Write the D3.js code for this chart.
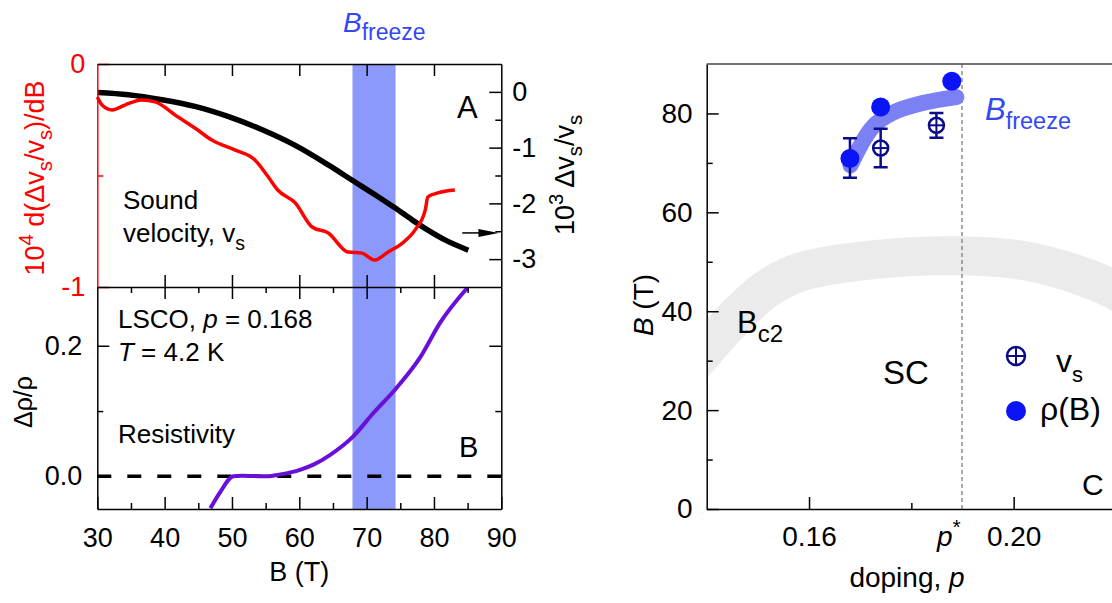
<!DOCTYPE html>
<html lang="en">
  <head>
    <meta charset="UTF-8" />
    <script src="https://cdn.jsdelivr.net/npm/d3@7"></script>
    <style>
      * {
        margin: 0;
        padding: 0;
      }
      body {
        background: #fff;
      }
      svg {
        display: block;
        font-family: 'Liberation Sans', Arial, sans-serif;
      }
    </style>
    <title>Bfreeze</title>
  </head>
  <body>
    <div id="container"></div>
  </body>
  <script>
    // panel A: sound velocity (black, right axis) and its field derivative (red, left axis)
    const vsField = [30.1, 34.6, 39.6, 44.5, 49.4, 54.5, 59.4, 64.3, 67.8, 71.7, 74.2, 76.8, 79.1, 81.7, 85.1];
    const vsShift = [-0.01, -0.05, -0.14, -0.26, -0.44, -0.68, -0.96, -1.31, -1.58, -1.88, -2.08, -2.3, -2.48, -2.66, -2.84];
    const dvdbField = [30, 30.7, 32.2, 34.1, 36.6, 38.6, 42.0, 44.5, 47.0, 50.5, 53.4, 55.4, 56.8, 59.4, 61.9, 64.3, 67.2, 69.3, 71.2, 73.2, 75.3, 77.2, 78.7, 79.1, 80.6, 83.1];
    const dvdb = [-0.148, -0.184, -0.206, -0.184, -0.161, -0.17, -0.238, -0.287, -0.341, -0.386, -0.43, -0.507, -0.565, -0.623, -0.731, -0.758, -0.843, -0.848, -0.879, -0.843, -0.803, -0.744, -0.655, -0.596, -0.578, -0.565];
    const arrowLevel = -2.53;

    // panel B: resistivity
    const rhoField = [46.8, 48.2, 50.2, 51.5, 55.2, 57.2, 60.1, 62.1, 64.6, 67.9, 71.0, 74.4, 78.0, 80.9, 84.9];
    const rho = [-0.049, -0.025, 0.0, 0.001, 0.0, 0.003, 0.01, 0.018, 0.033, 0.06, 0.097, 0.135, 0.183, 0.235, 0.288];

    // Bfreeze window (T)
    const freezeWindow = [67.9, 74.3];

    // panel C: phase diagram
    const pRho = [0.168, 0.174, 0.1879];
    const bRho = [70.9, 81.3, 86.5];
    const pVs = [0.168, 0.174, 0.1849];
    const bVs = [71.0, 73.0, 77.6];
    const bVsErr = [4.0, 3.9, 2.5];
    const pFreeze = [0.1681, 0.1724, 0.1763, 0.1822, 0.1888];
    const bFreeze = [69.5, 77.2, 80.1, 82.1, 83.3];
    const pBc2 = [0.134, 0.1386, 0.1451, 0.1517, 0.1582, 0.1713, 0.1898, 0.2037, 0.2191, 0.2266];
    const bBc2 = [25, 30.8, 38.3, 44.5, 47.9, 50.3, 51.2, 49.9, 44.6, 39.5];
    const pStar = 0.1899;

    const fieldTicks = [30, 40, 50, 60, 70, 80, 90];
    const fieldMinor = [35, 45, 55, 65, 75, 85];
    const dopingTicks = [0.16, 0.2];

    const width = 1112;
    const height = 603;
    const FONT = "'Liberation Sans', Arial, sans-serif";
    const red = '#ff0000';
    const purple = '#6a0fd8';
    const bandBlue = '#8a99fb';
    const freezeBlue = '#3448f2';
    const navy = '#0b0b8a';

    const svg = d3
      .select('#container')
      .append('svg')
      .attr('width', width)
      .attr('height', height);

    const left = 97.3;
    const right = 501.3;
    const topA = 64;
    const midAB = 287;
    const bottom = 509;

    const xB = d3.scaleLinear().domain([30, 90]).range([left, right]);
    const yRed = d3.scaleLinear().domain([-1, 0]).range([midAB, topA]);
    const yVs = d3.scaleLinear().domain([-3.5, 0.5]).range([midAB, topA]);
    const yRho = d3.scaleLinear().domain([-0.05, 0.29]).range([bottom, midAB]);

    const cLeft = 706.7;
    const xP = d3.scaleLinear().domain([0.14, 0.22]).range([cLeft, 1116]);
    const yB = d3.scaleLinear().domain([0, 90]).range([bottom, topA]);

    // rich text with sub / superscripts
    function rich(sel, parts, size) {
      let shift = 0;
      parts.forEach((p) => {
        const target = p.sub ? size * 0.3 : p.sup ? -size * 0.42 : 0;
        sel
          .append('tspan')
          .attr('dy', target - shift)
          .attr('font-size', p.sub || p.sup ? p.small || size * 0.75 : size)
          .attr('font-style', p.it ? 'italic' : null)
          .text(p.t);
        shift = target;
      });
      return sel;
    }

    function label(x, y, parts, size, color, anchor, rotate) {
      const t = svg
        .append('text')
        .attr('transform', `translate(${x},${y})` + (rotate ? ' rotate(-90)' : ''))
        .attr('fill', color || '#000')
        .attr('text-anchor', anchor || 'start')
        .attr('font-size', size);
      return rich(t, parts, size);
    }

    function axis(gen, scale, tx, ty, major, minor, pad, fmt, color, size) {
      const g = svg
        .append('g')
        .attr('transform', `translate(${tx},${ty})`)
        .call(
          gen(scale)
            .tickValues(major)
            .tickSize(-12)
            .tickSizeOuter(0)
            .tickPadding(pad)
            .tickFormat(fmt || (() => ''))
        )
        .attr('font-family', FONT)
        .attr('font-size', size || 27);
      if (minor) {
        const m = g
          .append('g')
          .call(gen(scale).tickValues(minor).tickSize(-6).tickSizeOuter(0).tickFormat(() => ''));
        m.select('.domain').remove();
      }
      g.selectAll('path, line').attr('stroke', color || '#000').attr('stroke-width', 1.5);
      g.selectAll('text').attr('fill', color || '#000');
      return g;
    }

    //freeze window
    svg
      .append('rect')
      .attr('x', xB(freezeWindow[0]))
      .attr('y', topA)
      .attr('width', xB(freezeWindow[1]) - xB(freezeWindow[0]))
      .attr('height', bottom - topA)
      .attr('fill', bandBlue);

    //zero line
    svg
      .append('line')
      .attr('x1', xB(30))
      .attr('x2', xB(90))
      .attr('y1', yRho(0))
      .attr('y2', yRho(0))
      .attr('stroke', '#000')
      .attr('stroke-width', 3.5)
      .attr('stroke-dasharray', '14,16');

    //curves
    const lineA = d3.line().curve(d3.curveMonotoneX);
    svg
      .append('path')
      .datum(d3.zip(vsField, vsShift))
      .attr('d', lineA.x((d) => xB(d[0])).y((d) => yVs(d[1])))
      .attr('fill', 'none')
      .attr('stroke', '#000')
      .attr('stroke-width', 5.5);
    svg
      .append('path')
      .datum(d3.zip(dvdbField, dvdb))
      .attr('d', lineA.x((d) => xB(d[0])).y((d) => yRed(d[1])))
      .attr('fill', 'none')
      .attr('stroke', red)
      .attr('stroke-width', 3.5);
    svg
      .append('path')
      .datum(d3.zip(rhoField, rho))
      .attr('d', lineA.x((d) => xB(d[0])).y((d) => yRho(d[1])))
      .attr('fill', 'none')
      .attr('stroke', purple)
      .attr('stroke-width', 4);

    //arrow to right axis
    const ay = yVs(arrowLevel);
    svg
      .append('line')
      .attr('x1', xB(84.2))
      .attr('x2', xB(87))
      .attr('y1', ay)
      .attr('y2', ay)
      .attr('stroke', '#000')
      .attr('stroke-width', 1.5);
    svg
      .append('path')
      .attr('d', `M${xB(86.6)},${ay - 4}L${xB(89.6)},${ay}L${xB(86.6)},${ay + 4}Z`)
      .attr('fill', '#000');

    //axes, panel A
    axis(d3.axisLeft, yRed, left, 0, [-1, 0], [-0.5], 12, (d) => String(d), red);
    axis(d3.axisRight, yVs, right, 0, [-3, -2, -1, 0], [-2.5, -1.5, -0.5], 11, (d) => String(d));
    axis(d3.axisTop, xB, 0, topA, [40, 50, 60, 70, 80], null, 0);
    axis(d3.axisBottom, xB, 0, midAB, [40, 50, 60, 70, 80], null, 0).select('.domain').remove();
    //axes, panel B
    axis(d3.axisTop, xB, 0, midAB, [40, 50, 60, 70, 80], fieldMinor, 0);
    axis(d3.axisBottom, xB, 0, bottom, fieldTicks, fieldMinor, 19, (d) => String(d));
    axis(d3.axisLeft, yRho, left, 0, [0, 0.2], [0.1], 15, d3.format('.1f'));
    axis(d3.axisRight, yRho, right, 0, [0, 0.2], [0.1], 0);

    //panel A / B texts
    label(343, 32, [{ t: 'B', it: true }, { t: 'freeze', sub: true, small: 23 }], 28, freezeBlue);
    label(457, 118, [{ t: 'A' }], 31);
    label(123, 209, [{ t: 'Sound' }], 26);
    label(123, 242, [{ t: 'velocity, v' }, { t: 's', sub: true }], 26);
    label(118, 328, [{ t: 'LSCO, ' }, { t: 'p', it: true }, { t: ' = 0.168' }], 26);
    label(118, 361, [{ t: 'T', it: true }, { t: ' = 4.2 K' }], 26);
    label(118, 443, [{ t: 'Resistivity' }], 26);
    label(459, 457, [{ t: 'B' }], 29);
    label(xB(60), 581, [{ t: 'B (T)' }], 27, '#000', 'middle');
    label(44, 178, [
      { t: '10' }, { t: '4', sup: true }, { t: ' d(\u0394v' }, { t: 's', sub: true },
      { t: '/v' }, { t: 's', sub: true }, { t: ')/dB' },
    ], 27, red, 'middle', true);
    label(32, 402, [{ t: '\u0394\u03c1/\u03c1' }], 25, '#000', 'middle', true);
    label(574, 175, [
      { t: '10' }, { t: '3', sup: true }, { t: ' \u0394v' }, { t: 's', sub: true },
      { t: '/v' }, { t: 's', sub: true },
    ], 27, '#000', 'middle', true);

    //panel C
    svg
      .append('clipPath')
      .attr('id', 'clipC')
      .append('rect')
      .attr('x', cLeft)
      .attr('y', topA)
      .attr('width', width - cLeft)
      .attr('height', bottom - topA);

    const lineC = d3
      .line()
      .x((d) => xP(d[0]))
      .y((d) => yB(d[1]))
      .curve(d3.curveCatmullRom);

    svg
      .append('path')
      .datum(d3.zip(pBc2, bBc2))
      .attr('clip-path', 'url(#clipC)')
      .attr('d', lineC)
      .attr('fill', 'none')
      .attr('stroke', '#ebebeb')
      .attr('stroke-width', 39);

    svg
      .append('line')
      .attr('x1', xP(pStar))
      .attr('x2', xP(pStar))
      .attr('y1', topA)
      .attr('y2', bottom)
      .attr('stroke', '#555')
      .attr('stroke-width', 1)
      .attr('stroke-dasharray', '4,3');

    svg
      .append('path')
      .datum(d3.zip(pFreeze, bFreeze))
      .attr('d', lineC)
      .attr('fill', 'none')
      .attr('stroke', '#7b80f3')
      .attr('stroke-width', 16)
      .attr('stroke-linecap', 'round');

    function crossCircle(g, cx, cy, r) {
      g.append('circle')
        .attr('cx', cx)
        .attr('cy', cy)
        .attr('r', r)
        .attr('fill', '#fff')
        .attr('stroke', navy)
        .attr('stroke-width', 2.5);
      g.append('line')
        .attr('x1', cx - r)
        .attr('x2', cx + r)
        .attr('y1', cy)
        .attr('y2', cy)
        .attr('stroke', navy)
        .attr('stroke-width', 2);
      g.append('line')
        .attr('x1', cx)
        .attr('x2', cx)
        .attr('y1', cy - r)
        .attr('y2', cy + r)
        .attr('stroke', navy)
        .attr('stroke-width', 2);
    }

    //vs points with error bars
    const vsG = svg.append('g');
    pVs.forEach((p, i) => {
      const cx = xP(p);
      const y1 = yB(bVs[i] + bVsErr[i]);
      const y2 = yB(bVs[i] - bVsErr[i]);
      vsG
        .append('path')
        .attr('d', `M${cx},${y1}V${y2}M${cx - 7},${y1}H${cx + 7}M${cx - 7},${y2}H${cx + 7}`)
        .attr('stroke', navy)
        .attr('stroke-width', 2.5)
        .attr('fill', 'none');
      crossCircle(vsG, cx, yB(bVs[i]), 7.5);
    });

    //rho points
    svg
      .append('g')
      .selectAll('circle')
      .data(d3.zip(pRho, bRho))
      .join('circle')
      .attr('cx', (d) => xP(d[0]))
      .attr('cy', (d) => yB(d[1]))
      .attr('r', 9.5)
      .attr('fill', '#0a14f5');

    //axes, panel C
    axis(d3.axisLeft, yB, cLeft, 0, [0, 20, 40, 60, 80], [10, 30, 50, 70], 14, (d) => String(d), '#000', 28);
    axis(d3.axisBottom, xP, 0, bottom, dopingTicks, [0.18], 17, d3.format('.2f'), '#000', 28);
    svg
      .append('line')
      .attr('x1', cLeft)
      .attr('x2', width)
      .attr('y1', topA)
      .attr('y2', topA)
      .attr('stroke', '#444')
      .attr('stroke-width', 1.5);

    //legend
    crossCircle(svg, 1016, 356, 9);
    svg.append('circle').attr('cx', 1016).attr('cy', 411).attr('r', 10).attr('fill', '#0a14f5');
    label(1056, 372, [{ t: 'v' }, { t: 's', sub: true, small: 22 }], 32);
    label(1040, 420, [{ t: '\u03c1(B)' }], 32);

    //panel C texts
    label(985, 120, [{ t: 'B', it: true }, { t: 'freeze', sub: true, small: 23.5 }], 31, freezeBlue);
    label(737, 333, [{ t: 'B' }, { t: 'c2', sub: true, small: 24 }], 31);
    label(883, 384, [{ t: 'SC' }], 33);
    label(1082, 495, [{ t: 'C' }], 30);
    label(937, 546, [{ t: 'p', it: true }, { t: '*', sup: true }], 28);
    label(907, 587, [{ t: 'doping, ' }, { t: 'p', it: true }], 28, '#000', 'middle');
    label(653, 305, [{ t: 'B', it: true }, { t: ' (T)' }], 28, '#000', 'middle', true);
  </script>
</html>
